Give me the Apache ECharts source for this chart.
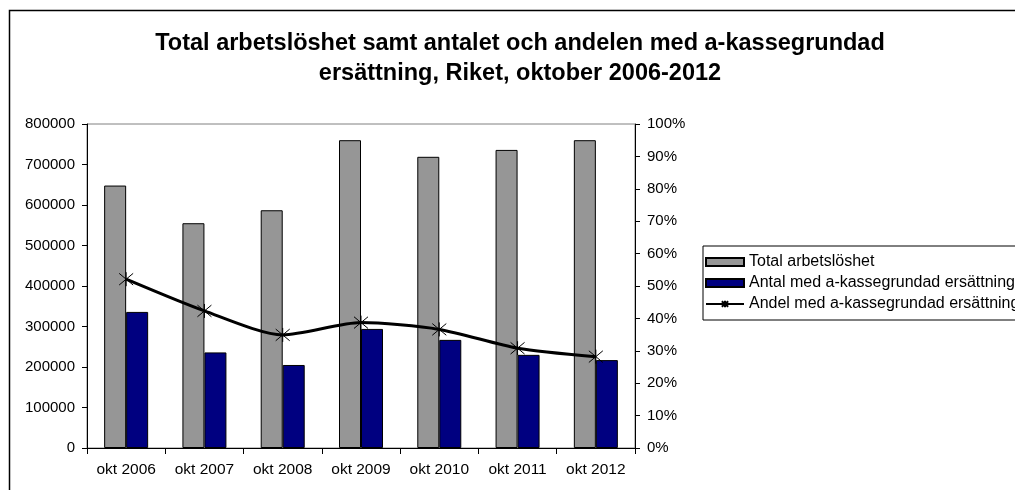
<!DOCTYPE html>
<html>
<head>
<meta charset="utf-8">
<script src="https://cdn.jsdelivr.net/npm/echarts@6/dist/echarts.min.js"></script>
<style>
    html, body { margin: 0; padding: 0; background: #fff; }
    #chart { width: 1015px; height: 490px; }
</style>
</head>
<body>
<div id="chart"></div>
<script>
const categories = ["okt 2006", "okt 2007", "okt 2008", "okt 2009", "okt 2010", "okt 2011", "okt 2012"];
const totalArbetsloshet = [648000, 555000, 587000, 760000, 719000, 736000, 760000];
const antalMedErsattning = [336000, 236000, 205000, 294000, 267000, 230000, 217000];
const andelMedErsattning = [52.1, 42.3, 34.9, 38.7, 36.6, 30.8, 28.2]; // procent

const font = "'Liberation Sans', Arial, sans-serif";
// Excel-liknande asterisk: kryss + lodrätt streck
const starSymbol = "path://M0,0L10,10M10,0L0,10M5,-1L5,11";

const chart = echarts.init(document.getElementById("chart"));

chart.setOption({
    animation: false,
    textStyle: {fontFamily: font, color: "#000"},
    title: {
        text: "Total arbetslöshet samt antalet och andelen med a-kassegrundad\nersättning, Riket, oktober 2006-2012",
        left: 515,
        top: 24,
        textAlign: "center",
        textStyle: {fontFamily: font, fontSize: 23.5, fontWeight: "bold", color: "#000", lineHeight: 30}
    },
    graphic: [
        {
            type: "rect",
            silent: true,
            shape: {x: 9.5, y: 10.5, width: 1100, height: 600},
            style: {fill: null, stroke: "#000", lineWidth: 1.5}
        }
    ],
    legend: {
        orient: "vertical",
        left: 703,
        top: 246,
        padding: [8, 100, 8, 2],
        borderColor: "#000",
        borderWidth: 1,
        itemWidth: 38,
        itemHeight: 8,
        itemGap: 5,
        textStyle: {fontFamily: font, fontSize: 16, color: "#000"},
        data: [
            {name: "Total arbetslöshet", icon: "rect"},
            {name: "Antal med a-kassegrundad ersättning", icon: "rect"},
            {name: "Andel med a-kassegrundad ersättning"}
        ]
    },
    grid: {
        left: 87,
        right: 380,
        top: 124,
        bottom: 42,
        show: true,
        borderColor: "#808080",
        borderWidth: 1
    },
    xAxis: {
        type: "category",
        data: categories,
        axisLine: {lineStyle: {color: "#000", width: 1}},
        axisTick: {show: true, length: 6, lineStyle: {color: "#000"}},
        axisLabel: {fontFamily: font, fontSize: 15.5, color: "#000", margin: 14}
    },
    yAxis: [
        {
            type: "value",
            min: 0,
            max: 800000,
            interval: 100000,
            axisLine: {show: true, lineStyle: {color: "#000"}},
            axisTick: {show: true, length: 5, lineStyle: {color: "#000"}},
            axisLabel: {fontFamily: font, fontSize: 15, color: "#000", margin: 12, formatter: (v) => String(v)},
            splitLine: {show: false}
        },
        {
            type: "value",
            min: 0,
            max: 100,
            interval: 10,
            position: "right",
            axisLine: {show: true, lineStyle: {color: "#000"}},
            axisTick: {show: true, length: 5, lineStyle: {color: "#000"}},
            axisLabel: {fontFamily: font, fontSize: 15, color: "#000", margin: 12, formatter: "{value}%"},
            splitLine: {show: false}
        }
    ],
    series: [
        {
            name: "Total arbetslöshet",
            type: "bar",
            data: totalArbetsloshet,
            barWidth: 22,
            barGap: "0%",
            itemStyle: {color: "#969696", borderColor: "#000", borderWidth: 1}
        },
        {
            name: "Antal med a-kassegrundad ersättning",
            type: "bar",
            data: antalMedErsattning,
            barWidth: 22,
            barGap: "0%",
            itemStyle: {color: "#000080", borderColor: "#000", borderWidth: 1}
        },
        {
            name: "Andel med a-kassegrundad ersättning",
            type: "line",
            yAxisIndex: 1,
            data: andelMedErsattning,
            smooth: 0.25,
            symbol: starSymbol,
            symbolSize: 14,
            lineStyle: {color: "#000", width: 3},
            itemStyle: {color: "#000", borderColor: "#000", borderWidth: 1}
        }
    ]
});
</script>
</body>
</html>
